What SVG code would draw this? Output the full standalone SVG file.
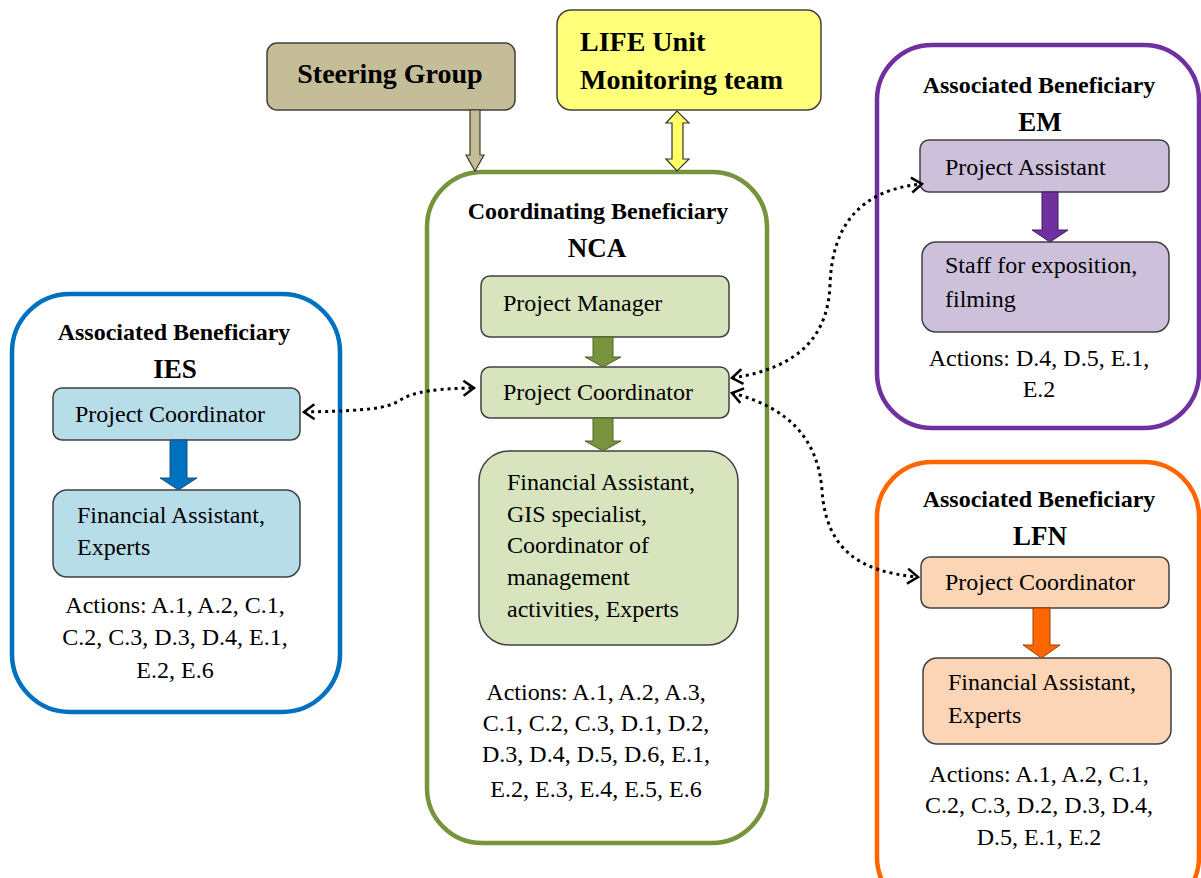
<svg xmlns="http://www.w3.org/2000/svg" width="1201" height="878" viewBox="0 0 1201 878">
<style>
text{font-family:"Liberation Serif","Times New Roman",serif;fill:#000}
.t{font-size:24px;font-weight:bold}
.b{font-size:24px}
.big{font-size:27px;font-weight:bold}
.top{font-size:28px;font-weight:bold}
.c{text-anchor:middle}
.node{stroke:#404040;stroke-width:1.5}
.outer{fill:#fff;stroke-width:4.5}
.dot{fill:none;stroke:#000;stroke-width:3;stroke-dasharray:3 4;marker-start:url(#chev);marker-end:url(#chev)}
</style>
<defs>
<marker id="chev" viewBox="0 0 14 18" refX="12" refY="9" markerWidth="14" markerHeight="18" markerUnits="userSpaceOnUse" orient="auto-start-reverse">
<path d="M1.5,1.5 L12,9 L1.5,16.5" fill="none" stroke="#000" stroke-width="2.5" stroke-dasharray="none"/>
</marker>
</defs>
<rect width="1201" height="878" fill="#fff"/>

<g id="steering">
<rect x="267" y="43" width="248" height="67" rx="10" fill="#c4bd97" class="node"/>
<text x="390" y="83" class="top c">Steering Group</text>
</g>

<g id="life">
<rect x="557" y="10" width="264" height="100" rx="14" fill="#ffff79" class="node"/>
<text x="580" y="51" class="top">LIFE Unit</text>
<text x="580" y="89" class="top">Monitoring team</text>
</g>

<g id="nca">
<rect x="427" y="172" width="340" height="671" rx="55" class="outer" stroke="#77933c"/>
<text x="598" y="219" class="t c">Coordinating Beneficiary</text>
<text x="597" y="257" class="big c">NCA</text>
<rect x="481" y="276" width="248" height="61" rx="9" fill="#d7e4bd" class="node"/>
<text x="503" y="311" class="b">Project Manager</text>
<rect x="481" y="367" width="248" height="51" rx="9" fill="#d7e4bd" class="node"/>
<text x="503" y="400" class="b">Project Coordinator</text>
<rect x="479" y="451" width="259" height="194" rx="30" fill="#d7e4bd" class="node"/>
<text x="507" y="490" class="b">Financial  Assistant,</text>
<text x="507" y="522" class="b">GIS specialist,</text>
<text x="507" y="553" class="b">Coordinator of</text>
<text x="507" y="585" class="b">management</text>
<text x="507" y="617" class="b">activities, Experts</text>
<path d="M593,337 L613,337 L613,357 L621,357 L603,367 L585,357 L593,357 Z" fill="#77933c" stroke="#4f6228" stroke-width="1"/>
<path d="M593,418 L613,418 L613,441 L621,441 L603,451 L585,441 L593,441 Z" fill="#77933c" stroke="#4f6228" stroke-width="1"/>
<text x="596" y="700" class="b c">Actions: A.1, A.2, A.3,</text>
<text x="596" y="731" class="b c">C.1, C.2, C.3, D.1, D.2,</text>
<text x="596" y="762" class="b c">D.3, D.4, D.5, D.6, E.1,</text>
<text x="596" y="797" class="b c">E.2, E.3, E.4, E.5, E.6</text>
</g>

<g id="ies">
<rect x="12" y="294" width="328" height="418" rx="58" class="outer" stroke="#0070c0"/>
<text x="174" y="340" class="t c">Associated Beneficiary</text>
<text x="175" y="378" class="big c">IES</text>
<rect x="53" y="388" width="247" height="52" rx="9" fill="#b7dde8" class="node"/>
<text x="75" y="422" class="b">Project Coordinator</text>
<rect x="53" y="490" width="247" height="87" rx="14" fill="#b7dde8" class="node"/>
<text x="77" y="523" class="b">Financial  Assistant,</text>
<text x="77" y="555" class="b">Experts</text>
<path d="M170,440 L187,440 L187,478 L197,478 L178.5,490 L160,478 L170,478 Z" fill="#0070c0" stroke="#1f4e79" stroke-width="1"/>
<text x="175" y="613" class="b c">Actions: A.1, A.2, C.1,</text>
<text x="175" y="645" class="b c">C.2, C.3, D.3, D.4, E.1,</text>
<text x="175" y="678" class="b c">E.2, E.6</text>
</g>

<g id="em">
<rect x="877" y="45" width="322" height="383" rx="55" class="outer" stroke="#7030a0"/>
<text x="1039" y="93" class="t c">Associated Beneficiary</text>
<text x="1040" y="131" class="big c">EM</text>
<rect x="920" y="140" width="249" height="52" rx="9" fill="#ccc0da" class="node"/>
<text x="945" y="175" class="b">Project Assistant</text>
<rect x="922" y="242" width="247" height="90" rx="14" fill="#ccc0da" class="node"/>
<text x="945" y="273" class="b">Staff for exposition,</text>
<text x="945" y="307" class="b">filming</text>
<path d="M1042,192 L1058,192 L1058,230 L1068,230 L1050,242 L1032,230 L1042,230 Z" fill="#7030a0" stroke="#3f1a5c" stroke-width="1"/>
<text x="1039" y="366" class="b c">Actions: D.4, D.5, E.1,</text>
<text x="1039" y="397" class="b c">E.2</text>
</g>

<g id="lfn">
<rect x="877" y="462" width="322" height="450" rx="55" class="outer" stroke="#ff6600"/>
<text x="1039" y="507" class="t c">Associated Beneficiary</text>
<text x="1040" y="545" class="big c">LFN</text>
<rect x="921" y="557" width="248" height="51" rx="9" fill="#fbd5b5" class="node"/>
<text x="945" y="590" class="b">Project Coordinator</text>
<rect x="923" y="658" width="248" height="86" rx="14" fill="#fbd5b5" class="node"/>
<text x="948" y="690" class="b">Financial  Assistant,</text>
<text x="948" y="723" class="b">Experts</text>
<path d="M1033,608 L1050,608 L1050,645 L1060,645 L1041.5,658 L1023,645 L1033,645 Z" fill="#ff6600" stroke="#9c3d00" stroke-width="1"/>
<text x="1039" y="782" class="b c">Actions: A.1, A.2, C.1,</text>
<text x="1039" y="813" class="b c">C.2, C.3, D.2, D.3, D.4,</text>
<text x="1039" y="845" class="b c">D.5, E.1, E.2</text>
</g>

<g id="connectors">
<path d="M470,110 L480,110 L480,155 L484,155 L475,171 L466,155 L470,155 Z" fill="#c4bd97" stroke="#3b3b2e" stroke-width="1.2"/>
<path d="M672,123 L666,123 L677,111 L689,123 L683,123 L683,159 L689,159 L677,171 L666,159 L672,159 Z" fill="#ffff66" stroke="#333" stroke-width="1.2"/>
<path class="dot" d="M304,412 C350,411 380,410 395,403 C410,394 420,389 474,388"/>
<path class="dot" d="M732,378 C800,368 828,335 830,285 C832,225 860,190 922,184"/>
<path class="dot" d="M732,393 C790,408 818,440 822,490 C826,550 860,572 918,577"/>
</g>
</svg>
